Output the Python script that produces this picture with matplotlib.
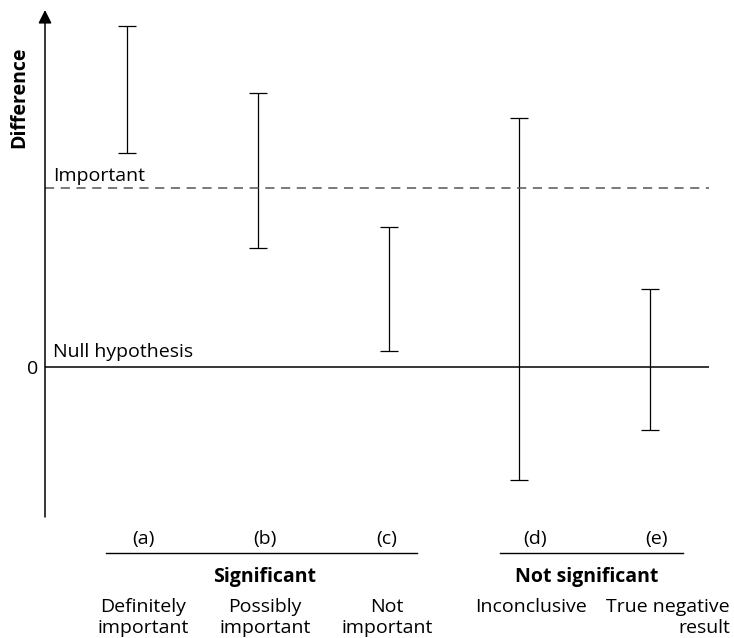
import numpy as np
import matplotlib
matplotlib.use("Agg")
import matplotlib.pyplot as plt
from matplotlib.lines import Line2D

plt.rcParams['font.family'] = ['Open Sans', 'DejaVu Sans']

# ---- data ----
case_labels = ["(a)", "(b)", "(c)", "(d)", "(e)"]
lower = [1.196, 0.665, 0.089, -0.631, -0.352]
upper = [1.905, 1.531, 0.782, 1.391, 0.436]
important_level = 1.0
null_level = 0.0
group_titles = ["Significant", "Not significant"]
desc_line1 = ["Definitely", "Possibly", "Not", "Inconclusive", "True negative"]
desc_line2 = ["important", "important", "important", "", "result"]

FS = 14
W, H = 734, 638
fig = plt.figure(figsize=(W / 100, H / 100), dpi=100)

def fx(x):
    return x / W

def fy(y):
    return 1 - y / H

ax_left, ax_right, ax_top, ax_bot = 45, 709, 10, 517
ax = fig.add_axes([fx(ax_left), fy(ax_bot), (ax_right - ax_left) / W, (ax_bot - ax_top) / H])

xs = np.arange(len(case_labels))
lo = np.array(lower)
hi = np.array(upper)
mid = (lo + hi) / 2
err = (hi - lo) / 2
ax.errorbar(xs, mid, yerr=err, fmt='none', ecolor='black', elinewidth=0.9,
            capsize=6.8, capthick=0.9)

ax.axhline(null_level, color='black', lw=1.1)
ax.axhline(important_level, color='#555555', lw=1.1, dashes=(6, 4.3))

ax.set_xlim(-0.627, 4.451)
ax.set_ylim(-0.838, 1.994)

for s in ['top', 'right', 'bottom', 'left']:
    ax.spines[s].set_visible(False)
ax.set_xticks([])
ax.set_yticks([null_level])
ax.set_yticklabels(["0"], fontsize=FS)
ax.tick_params(axis='y', length=0, pad=5)

# y-axis arrow
ax.annotate('', xy=(0, 1), xytext=(0, 0), xycoords='axes fraction',
            arrowprops=dict(arrowstyle='-|>', lw=1.1, color='black', mutation_scale=20,
                            shrinkA=0, shrinkB=0))

ax.annotate("Important", xy=(0, important_level), xycoords=('axes fraction', 'data'),
            xytext=(6, 5), textcoords='offset points', fontsize=FS, va='baseline', ha='left')
ax.annotate("Null hypothesis", xy=(0, null_level), xycoords=('axes fraction', 'data'),
            xytext=(6, 7), textcoords='offset points', fontsize=FS, va='baseline', ha='left')

fig.text(fx(19), fy(97), "Difference", rotation=90, fontsize=FS, fontweight='bold',
         ha='center', va='center')

# bottom labels
label_px = [143, 265, 387, 535, 657]
for lab, x in zip(case_labels, label_px):
    fig.text(fx(x), fy(544), lab, fontsize=FS, ha='center', va='baseline')

for (x0, x1) in [(106, 417), (500, 683)]:
    fig.add_artist(Line2D([fx(x0), fx(x1)], [fy(553), fy(553)], color='black', lw=1.0))

fig.text(fx(265), fy(582), group_titles[0], fontsize=FS, fontweight='bold', ha='center', va='baseline')
fig.text(fx(587), fy(582), group_titles[1], fontsize=FS, fontweight='bold', ha='center', va='baseline')

desc_x = [143, 265, 387, 531, 730]
desc_ha = ['center', 'center', 'center', 'center', 'right']
for d1, d2, x, ha in zip(desc_line1, desc_line2, desc_x, desc_ha):
    fig.text(fx(x), fy(612), d1, fontsize=FS, ha=ha, va='baseline')
    if d2:
        fig.text(fx(x), fy(633), d2, fontsize=FS, ha=ha, va='baseline')

fig.savefig("out.png", dpi=100)
